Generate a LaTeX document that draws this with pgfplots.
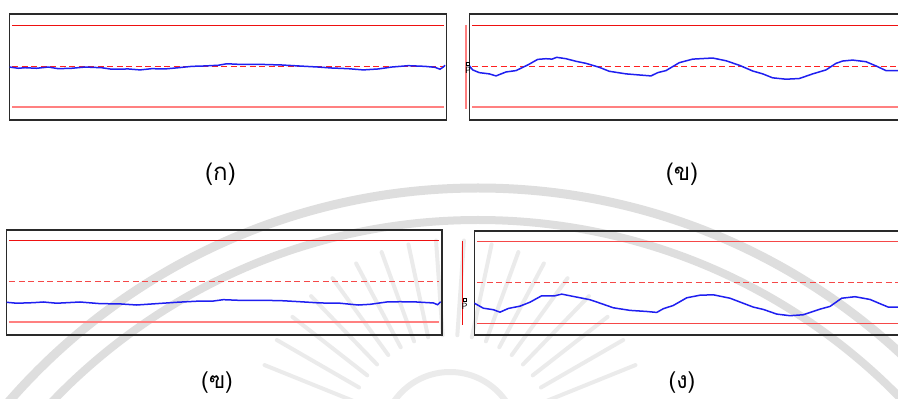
\documentclass[border=0pt]{standalone}
\usepackage{pgfplots}
\pgfplotsset{compat=1.18}
\usepackage{pgfplotstable}
\usetikzlibrary{calc}
\usepackage{fontspec}
\newfontfamily\thaifont[Script=Thai]{Loma}

\definecolor{uclred}{HTML}{EE1111}
\definecolor{uclsoft}{HTML}{F54848}
\definecolor{lclpink}{HTML}{FF8080}
\definecolor{clred}{HTML}{FF2020}
\definecolor{clsoft}{HTML}{F54848}
\definecolor{procblue}{HTML}{1F1FF0}
\definecolor{framegray}{HTML}{2A2A2A}
\definecolor{emblem}{HTML}{DEDEDE}
\definecolor{emblemlight}{HTML}{EBEBEB}

% Process series, in sigma units about the centre line
\pgfplotstableread{
x v
0 -0.04
8.8 -0.13
15.5 -0.09
27.2 -0.13
38.8 -0.04
48.8 -0.16
62.2 -0.13
75.5 -0.04
92.2 -0.09
102.2 -0.20
118.8 -0.18
130.5 -0.25
142.2 -0.16
155.5 -0.18
168.8 -0.09
182.2 0.01
195.5 0.04
208.8 0.09
217.2 0.20
228.8 0.16
248.8 0.16
272.2 0.11
288.8 0.04
308.8 -0.04
322.2 -0.11
338.8 -0.16
353.8 -0.25
368.8 -0.18
382.2 -0.04
398.8 0.06
415.5 0.01
425.5 -0.06
430.5 -0.20
433.8 -0.04
435.5 0.09
}\dataA

\pgfplotstableread{
x v
0 0.04
3.2 -0.25
9.8 -0.45
19.8 -0.54
26.5 -0.69
36.5 -0.40
46.5 -0.30
58.2 0.11
68.2 0.52
76.5 0.57
82.5 0.54
87.2 0.67
96.5 0.57
106.5 0.38
116.5 0.23
129.8 -0.06
139.8 -0.35
156.5 -0.54
169.8 -0.62
181.5 -0.69
188.2 -0.45
196.5 -0.30
209.8 0.28
223.2 0.54
243.2 0.62
256.5 0.42
269.8 0.09
283.2 -0.33
293.2 -0.54
303.2 -0.83
316.5 -0.93
329.8 -0.88
343.2 -0.54
356.5 -0.25
366.5 0.23
373.2 0.40
383.2 0.47
396.5 0.35
406.5 0.04
416.5 -0.30
428.2 -0.30
437 -0.28
}\dataB

\pgfplotstableread{
x v
0 -1.52
10.2 -1.59
26.8 -1.55
36.8 -1.50
50.2 -1.59
73.5 -1.50
93.5 -1.62
113.5 -1.64
130.2 -1.72
150.2 -1.62
170.2 -1.52
193.5 -1.43
206.8 -1.43
216.8 -1.33
233.5 -1.38
260.2 -1.38
276.8 -1.41
293.5 -1.48
313.5 -1.57
333.5 -1.59
351.8 -1.72
363.5 -1.67
380.2 -1.50
393.5 -1.48
410.2 -1.50
426.8 -1.57
431.2 -1.70
434.2 -1.48
}\dataC

\pgfplotstableread{
x v
0 -1.51
9 -1.88
19 -1.99
25.7 -2.17
34 -1.90
45.7 -1.73
55.7 -1.44
67.4 -0.97
80.7 -0.97
87.4 -0.85
99 -1.02
115.7 -1.26
125.7 -1.51
139 -1.85
155.7 -2.04
172.4 -2.12
182.4 -2.19
189 -1.92
199 -1.68
212.4 -1.12
225.7 -0.93
239 -0.90
255.7 -1.15
279 -1.80
289 -1.97
302.4 -2.31
315.7 -2.43
329 -2.36
345.7 -1.95
355.7 -1.75
367.4 -1.15
380.7 -1.04
395.7 -1.24
405.7 -1.55
414 -1.80
423.7 -1.80
436 -1.78
}\dataD

\pgfplotsset{
  panel/.style={
    scale only axis, width=437pt, xmin=0, xmax=437,
    ticks=none, clip=true, anchor=south west,
    axis line style={draw=framegray, line width=1.3pt},
  },
  upperlim/.style={draw=uclred, line width=1.1pt},
  lowerlim/.style={draw=lclpink, line width=2pt},
  centre/.style={draw=clred, line width=1.1pt, dash pattern=on 6pt off 3.5pt},
  process/.style={draw=procblue, line width=1.5pt},
}

\begin{document}
\begin{tikzpicture}
\useasboundingbox (0,0) rectangle (898pt,399pt);
\clip (0,0) rectangle (898pt,399pt);

% faint emblem in the background
\begin{scope}
  \draw[emblem, line width=9pt] (478pt,-411pt) circle (622pt);
  \draw[emblem, line width=8pt] (478pt,-411pt) circle (590pt);
  \draw[emblemlight, line width=6pt] (450pt,-41pt) circle (68pt);
  \foreach \a in {22,30,...,158}
    \draw[emblemlight, line width=4pt, line cap=round]
      ($(450pt,-41pt)+(\a:105pt)$) -- ($(450pt,-41pt)+(\a:200pt)$);
\end{scope}

% top left
\begin{axis}[panel, at={(9.5pt,279pt)}, height=106pt, ymin=-3.9146, ymax=3.8415]
  \addplot[upperlim] coordinates {(2.5,3) (434,3)};
  \addplot[lowerlim] coordinates {(2.5,-3) (434,-3)};
  \addplot[centre] coordinates {(2.5,0) (434,0)};
  \addplot[process] table[x=x, y=v] {\dataA};
\end{axis}

% top right
\begin{axis}[panel, at={(469.5pt,279pt)}, height=106pt, ymin=-3.9146, ymax=3.8415]
  \addplot[upperlim] coordinates {(2.5,3) (434,3)};
  \addplot[lowerlim] coordinates {(2.5,-3) (434,-3)};
  \addplot[centre] coordinates {(2.5,0) (434,0)};
  \addplot[process] table[x=x, y=v] {\dataB};
\end{axis}

% bottom left
\begin{axis}[panel, width=435.5pt, xmax=435.5, at={(6.5pt,64pt)}, height=105pt, ymin=-3.9146, ymax=3.7683]
  \addplot[upperlim] coordinates {(2.8,3) (432.2,3)};
  \addplot[lowerlim] coordinates {(2.8,-3) (432.2,-3)};
  \addplot[centre, draw=clsoft] coordinates {(2.8,0) (432.2,0)};
  \addplot[process] table[x=x, y=v] {\dataC};
\end{axis}

% bottom right
\begin{axis}[panel, at={(474.3pt,64pt)}, height=104pt, ymin=-3.8415, ymax=3.7683]
  \addplot[upperlim, draw=uclsoft] coordinates {(2.7,3) (434,3)};
  \addplot[lowerlim, draw=uclsoft, line width=1.4pt] coordinates {(2.7,-3) (434,-3)};
  \addplot[centre, draw=clsoft] coordinates {(2.7,0) (434,0)};
  \addplot[process] table[x=x, y=v] {\dataD};
\end{axis}

% side markers beside the right panels
\draw[lclpink, line width=1.6pt] (466pt,374pt) -- (466pt,290pt);
\draw[black, line width=0.6pt] (466.6pt,337pt) rectangle (469.6pt,334pt);
\node[font=\sffamily\fontsize{9}{9}\selectfont, inner sep=0pt] at (468.2pt,328.5pt) {P};
\draw[uclred, line width=1.3pt] (462.3pt,158pt) -- (462.3pt,74pt);
\draw[black, line width=0.6pt] (462.8pt,101pt) rectangle (465.8pt,98pt);
\node[font=\sffamily\fontsize{9}{9}\selectfont, inner sep=0pt] at (464.5pt,92.5pt) {P};

% panel captions
\node[font=\thaifont\fontsize{24}{24}\selectfont, inner sep=0pt] at (220.5pt,225pt) {(ก)};
\node[font=\thaifont\fontsize{24}{24}\selectfont, inner sep=0pt] at (682pt,225pt) {(ข)};
\node[font=\thaifont\fontsize{23}{23}\selectfont, inner sep=0pt] at (217pt,16.5pt) {(ฃ)};
\node[font=\thaifont\fontsize{23}{23}\selectfont, inner sep=0pt] at (682pt,16.5pt) {(ง)};
\end{tikzpicture}
\end{document}
